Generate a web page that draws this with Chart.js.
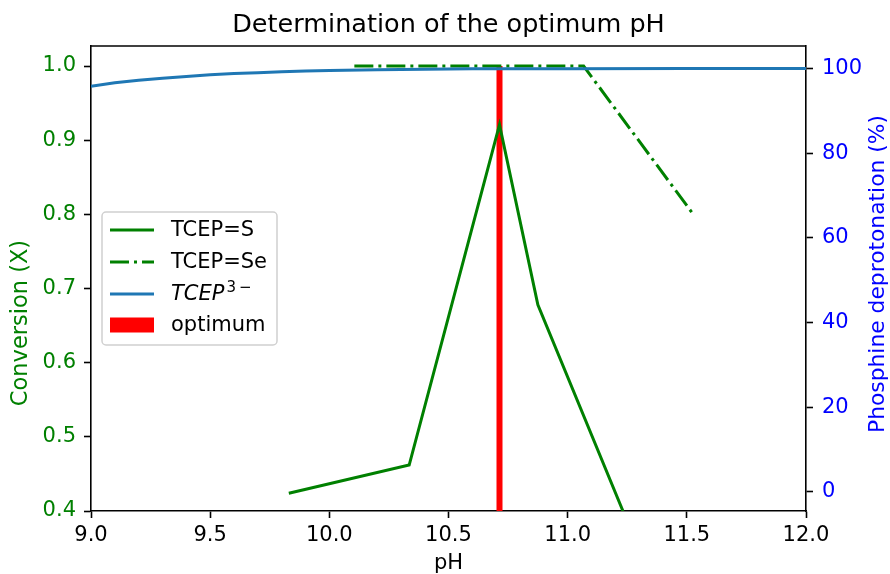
<!DOCTYPE html>
<html>
<head>
<meta charset="utf-8">
<script src="https://cdn.jsdelivr.net/npm/chart.js@4"></script>
<style>
  html, body { margin: 0; padding: 0; background: #fff; }
  canvas { display: block; }
</style>
</head>
<body>
<canvas id="chart" width="890" height="574"></canvas>
<script>
// data
const phS = [9.83, 10.335, 10.714, 10.875, 11.232];
const convS = [0.424, 0.462, 0.921, 0.678, 0.40];
const phSe = [10.105, 11.067, 11.527];
const convSe = [1.0, 1.0, 0.80];
const phT = [9.0, 9.1, 9.2, 9.3, 9.4, 9.5, 9.6, 9.7, 9.8, 9.9, 10.0, 10.2, 10.4, 10.6, 10.8, 11.0, 11.5, 12.0];
const depT = [95.8, 96.6, 97.2, 97.7, 98.1, 98.5, 98.8, 99.0, 99.2, 99.4, 99.5, 99.7, 99.8, 99.9, 99.92, 99.95, 99.98, 100];
const phOpt = 10.714;
const optHeight = 1.0;
const xTicks = [9.0, 9.5, 10.0, 10.5, 11.0, 11.5, 12.0];
const convTicks = [0.4, 0.5, 0.6, 0.7, 0.8, 0.9, 1.0];
const depTicks = [0, 20, 40, 60, 80, 100];
const legendLabels = ['TCEP=S', 'TCEP=Se', 'TCEP', 'optimum'];

const GREEN = '#008000', BLUE = '#1f77b4', RED = '#ff0000';
const FONT = '"DejaVu Sans", sans-serif';
const TICK = 21;

const pts = (xs, ys) => xs.map((x, i) => ({ x, y: ys[i] }));
const setTicks = list => scale => { scale.ticks = list.map(v => ({ value: v })); };

// title, top spine, y labels, legend
const decor = {
  id: 'decor',
  afterDraw(chart) {
    const { ctx, chartArea: a } = chart;
    ctx.save();
    ctx.strokeStyle = '#000'; ctx.lineWidth = 1.6;
    ctx.beginPath(); ctx.moveTo(a.left, a.top); ctx.lineTo(a.right, a.top); ctx.stroke();

    ctx.fillStyle = '#000'; ctx.font = '25.5px ' + FONT;
    ctx.textAlign = 'center'; ctx.textBaseline = 'middle';
    ctx.fillText('Determination of the optimum pH', (a.left + a.right) / 2, 25);

    ctx.save(); ctx.translate(21, 323); ctx.rotate(-Math.PI / 2);
    ctx.font = '22.5px ' + FONT;
    ctx.fillStyle = GREEN; ctx.fillText('Conversion (X)', 0, 0); ctx.restore();
    ctx.save(); ctx.translate(878, 274); ctx.rotate(-Math.PI / 2);
    ctx.font = '21.8px ' + FONT;
    ctx.fillStyle = '#0000ff'; ctx.fillText('Phosphine deprotonation (%)', 0, 0); ctx.restore();

    // legend box
    const bx = 102, by = 212, bw = 175, bh = 133;
    ctx.beginPath(); ctx.roundRect(bx, by, bw, bh, 4);
    ctx.fillStyle = 'rgba(255,255,255,0.8)'; ctx.fill();
    ctx.strokeStyle = '#d0d0d0'; ctx.lineWidth = 1.5; ctx.stroke();
    const rows = [230, 262, 294, 325];
    const hx0 = 110, hx1 = 154, tx = 171;
    ctx.lineCap = 'butt'; ctx.lineWidth = 3;
    ctx.strokeStyle = GREEN; ctx.setLineDash([]);
    ctx.beginPath(); ctx.moveTo(hx0, rows[0]); ctx.lineTo(hx1, rows[0]); ctx.stroke();
    ctx.setLineDash([19, 5, 3, 5]);
    ctx.beginPath(); ctx.moveTo(hx0, rows[1]); ctx.lineTo(hx1, rows[1]); ctx.stroke();
    ctx.setLineDash([]); ctx.strokeStyle = BLUE;
    ctx.beginPath(); ctx.moveTo(hx0, rows[2]); ctx.lineTo(hx1, rows[2]); ctx.stroke();
    ctx.fillStyle = RED; ctx.fillRect(hx0, rows[3] - 7.5, hx1 - hx0, 15);

    ctx.fillStyle = '#000'; ctx.textAlign = 'left'; ctx.textBaseline = 'middle';
    ctx.font = TICK + 'px ' + FONT;
    ctx.fillText(legendLabels[0], tx, rows[0] + 1);
    ctx.fillText(legendLabels[1], tx, rows[1] + 1);
    ctx.font = 'italic ' + TICK + 'px ' + FONT;
    ctx.fillText(legendLabels[2], tx, rows[2] + 1);
    const w = ctx.measureText(legendLabels[2]).width;
    ctx.font = '15px ' + FONT;
    ctx.fillText('3\u2009\u2212', tx + w + 2, rows[2] - 6);
    ctx.font = TICK + 'px ' + FONT;
    ctx.fillText(legendLabels[3], tx, rows[3] + 1);
    ctx.restore();
  }
};

new Chart(document.getElementById('chart'), {
  type: 'line',
  data: {
    datasets: [
      { label: 'TCEP3-', data: pts(phT, depT), yAxisID: 'y2', borderColor: BLUE, borderWidth: 3, order: 0 },
      { label: 'TCEP=S', data: pts(phS, convS), yAxisID: 'y', borderColor: GREEN, borderWidth: 3, order: 1 },
      { label: 'TCEP=Se', data: pts(phSe, convSe), yAxisID: 'y', borderColor: GREEN, borderWidth: 3,
        borderDash: [19, 5, 3, 5], order: 2 },
      { label: 'optimum', data: [{ x: phOpt, y: 0 }, { x: phOpt, y: optHeight }], yAxisID: 'y',
        borderColor: RED, borderWidth: 6, borderCapStyle: 'butt', clip: 0, order: 3 }
    ]
  },
  options: {
    responsive: false,
    animation: false,
    layout: { padding: { top: 46, left: 0, right: 0, bottom: 0 } },
    elements: { point: { radius: 0 }, line: { tension: 0, fill: false } },
    plugins: { legend: { display: false }, tooltip: { enabled: false } },
    scales: {
      x: {
        type: 'linear', min: 9, max: 12, offset: false,
        afterBuildTicks: setTicks(xTicks),
        afterFit: s => { s.height = 63; },
        grid: { drawOnChartArea: false, tickLength: 7, tickColor: '#000', tickWidth: 1.6 },
        border: { color: '#000', width: 1.6 },
        ticks: { color: '#000', padding: 5, font: { family: FONT, size: TICK }, callback: v => v.toFixed(1) },
        title: { display: true, text: 'pH', color: '#000', padding: 0, font: { family: FONT, size: TICK, lineHeight: 1 } }
      },
      y: {
        position: 'left', min: 0.4, max: 1.027,
        afterBuildTicks: setTicks(convTicks),
        afterFit: s => { s.width = 91; },
        grid: { drawOnChartArea: false, tickLength: 7, tickColor: '#000', tickWidth: 1.6 },
        border: { color: '#000', width: 1.6 },
        ticks: { color: GREEN, padding: 8, font: { family: FONT, size: TICK }, callback: v => v.toFixed(1) }
      },
      y2: {
        position: 'right', min: -4.5, max: 105.3,
        afterBuildTicks: setTicks(depTicks),
        afterFit: s => { s.width = 84; },
        grid: { drawOnChartArea: false, tickLength: 7, tickColor: '#000', tickWidth: 1.6 },
        border: { color: '#000', width: 1.6 },
        ticks: { color: '#0000ff', padding: 9, font: { family: FONT, size: TICK }, callback: v => String(v) }
      }
    }
  },
  plugins: [decor]
});
</script>
</body>
</html>
